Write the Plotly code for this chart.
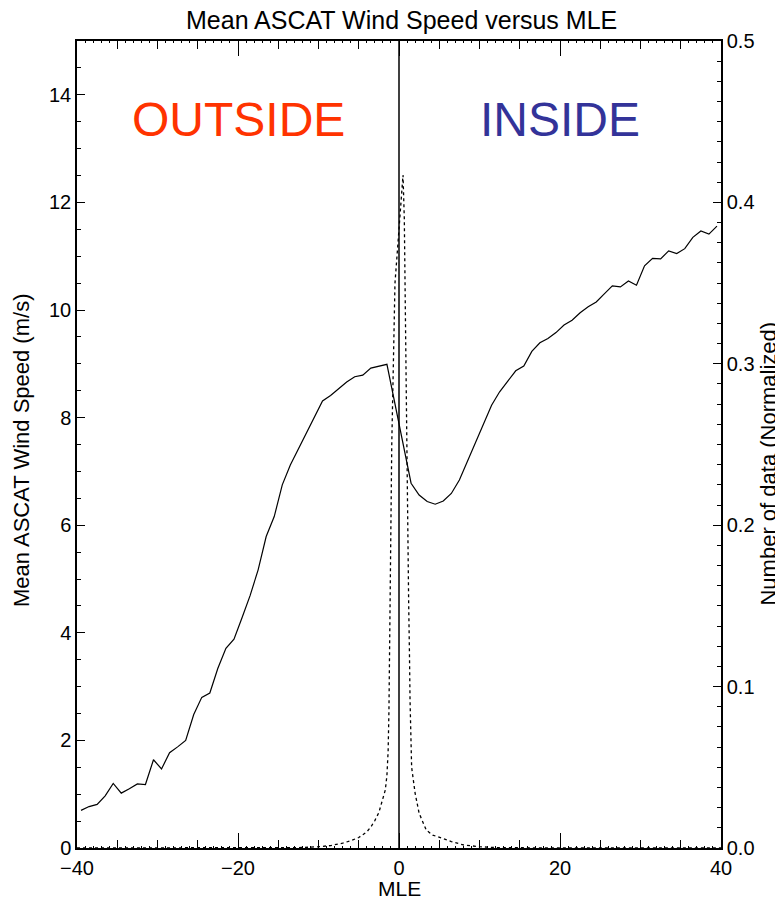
import plotly.graph_objects as go

# Mean ASCAT wind speed per MLE bin (bins at -0.5 and 0.5 absent)
mle_speed = [-39.5, -38.5, -37.5, -36.5, -35.5, -34.5, -33.5, -32.5, -31.5, -30.5,
             -29.5, -28.5, -27.5, -26.5, -25.5, -24.5, -23.5, -22.5, -21.5, -20.5,
             -19.5, -18.5, -17.5, -16.5, -15.5, -14.5, -13.5, -12.5, -11.5, -10.5,
             -9.5, -8.5, -7.5, -6.5, -5.5, -4.5, -3.5, -2.5, -1.5,
             1.5, 2.5, 3.5, 4.5, 5.5, 6.5, 7.5, 8.5, 9.5, 10.5,
             11.5, 12.5, 13.5, 14.5, 15.5, 16.5, 17.5, 18.5, 19.5, 20.5,
             21.5, 22.5, 23.5, 24.5, 25.5, 26.5, 27.5, 28.5, 29.5, 30.5,
             31.5, 32.5, 33.5, 34.5, 35.5, 36.5, 37.5, 38.5, 39.5]
wind_speed = [0.70, 0.77, 0.81, 0.97, 1.20, 1.02, 1.10, 1.19, 1.18, 1.64,
              1.47, 1.77, 1.88, 2.00, 2.48, 2.80, 2.88, 3.34, 3.71, 3.88,
              4.28, 4.69, 5.17, 5.79, 6.16, 6.75, 7.12, 7.42, 7.73, 8.04,
              8.31, 8.41, 8.54, 8.66, 8.76, 8.79, 8.92, 8.96, 8.99,
              6.78, 6.56, 6.44, 6.39, 6.45, 6.59, 6.84, 7.18, 7.52, 7.86,
              8.23, 8.48, 8.68, 8.87, 8.96, 9.23, 9.39, 9.47, 9.58, 9.72,
              9.81, 9.95, 10.06, 10.15, 10.30, 10.45, 10.43, 10.54, 10.46, 10.82,
              10.96, 10.95, 11.10, 11.05, 11.14, 11.35, 11.47, 11.41, 11.56]

# Normalized number of data versus MLE
mle_count = [-40, -20, -12, -10, -8.5, -7, -6, -5, -4, -3.5, -3, -2.5, -2, -1.7,
             -1.5, -1.35, -1.25, -1.15, -1.05, -0.9, -0.7, -0.5, -0.2, 0.1, 0.5,
             0.6, 0.66, 0.75, 0.83, 0.9, 0.95, 1.05, 1.2, 1.3, 1.37, 1.57, 1.8,
             2.0, 2.5, 3.0, 3.4, 4.2, 5.3, 6.5, 8, 10, 12, 20, 40]
count_norm = [0.0, 0.0, 0.0003, 0.0008, 0.0015, 0.003, 0.0045, 0.0065, 0.010, 0.013,
              0.017, 0.022, 0.030, 0.036, 0.045, 0.060, 0.085, 0.13, 0.19, 0.25,
              0.30, 0.35, 0.37, 0.39, 0.417,
              0.40, 0.39, 0.35, 0.31, 0.27, 0.24, 0.20, 0.152, 0.12, 0.092, 0.05, 0.04,
              0.034, 0.0215, 0.015, 0.011, 0.008, 0.006, 0.004, 0.0019, 0.0008, 0.0003, 0.0, 0.0]

x_ticks = [-40, -20, 0, 20, 40]
y_ticks = [0, 2, 4, 6, 8, 10, 12, 14]
y2_ticks = [0.0, 0.1, 0.2, 0.3, 0.4, 0.5]

FONT = "Liberation Sans, Arial, sans-serif"

fig = go.Figure()
fig.add_trace(go.Scatter(x=mle_speed, y=wind_speed, mode="lines",
                         line=dict(color="black", width=1.2), xaxis="x", yaxis="y",
                         showlegend=False))
fig.add_trace(go.Scatter(x=mle_count, y=count_norm, mode="lines",
                         line=dict(color="black", width=1.3, dash="dot"), xaxis="x", yaxis="y2",
                         showlegend=False))
# invisible trace so the fine tick axis is drawn
fig.add_trace(go.Scatter(x=[-40], y=[0], xaxis="x2", yaxis="y", mode="markers",
                         marker=dict(opacity=0), showlegend=False, hoverinfo="skip"))

fig.add_shape(type="line", x0=0, x1=0, y0=0, y1=15, xref="x", yref="y",
              line=dict(color="black", width=1.5))

fig.add_annotation(x=-20, y=13.55, xref="x", yref="y", text="OUTSIDE", showarrow=False,
                   font=dict(family=FONT, size=48, color="#FF3300"))
fig.add_annotation(x=20, y=13.55, xref="x", yref="y", text="INSIDE", showarrow=False,
                   font=dict(family=FONT, size=48, color="#333399"))

# titles as annotations (paper coords; plot area 644 x 807 px)
fig.add_annotation(x=0.504, y=1.0260, xref="paper", yref="paper",
                   text="Mean ASCAT Wind Speed versus MLE", showarrow=False,
                   xanchor="center", yanchor="middle",
                   font=dict(family=FONT, size=25, color="black"))
fig.add_annotation(x=0.5, y=-0.0496, xref="paper", yref="paper", text="MLE",
                   showarrow=False, xanchor="center", yanchor="middle",
                   font=dict(family=FONT, size=21, color="black"))
fig.add_annotation(x=-0.0854, y=0.492, xref="paper", yref="paper",
                   text="Mean ASCAT Wind Speed (m/s)", textangle=-90, showarrow=False,
                   xanchor="center", yanchor="middle",
                   font=dict(family=FONT, size=22, color="black"))
fig.add_annotation(x=1.074, y=0.476, xref="paper", yref="paper",
                   text="Number of data (Normalized)", textangle=-90, showarrow=False,
                   xanchor="center", yanchor="middle",
                   font=dict(family=FONT, size=22, color="black"))

axis_common = dict(showgrid=False, zeroline=False, showline=True, linecolor="black",
                   linewidth=1.5, ticks="inside", tickcolor="black", automargin=False,
                   tickfont=dict(family=FONT, size=20, color="black"))

# the page body adds an 8px offset at left/top, so the figure is 8px smaller
fig.update_layout(
    width=775, height=893,
    margin=dict(l=69, r=62, t=33, b=53),
    paper_bgcolor="white", plot_bgcolor="white",
    xaxis=dict(range=[-40, 40], tickvals=x_ticks, ticklen=15, tickwidth=1.3,
               mirror="ticks", ticklabelstandoff=1,
               minor=dict(dtick=5, ticklen=8, tickcolor="black", ticks="inside"),
               **axis_common),
    xaxis2=dict(range=[-40, 40], overlaying="x", dtick=1, tick0=0, ticks="inside",
                ticklen=2, tickcolor="black", showticklabels=False, showgrid=False,
                zeroline=False, showline=False, mirror="ticks"),
    yaxis=dict(range=[0, 15], tickvals=y_ticks, ticklen=8, tickwidth=1.2,
               minor=dict(dtick=0.5, ticklen=4, tickcolor="black", ticks="inside"),
               **axis_common),
    yaxis2=dict(range=[0, 0.5], overlaying="y", side="right", tickvals=y2_ticks,
                tickformat=".1f", ticklen=8, tickwidth=1.2,
                minor=dict(dtick=0.0125, ticklen=4, tickcolor="black", ticks="inside"),
                **axis_common),
)

fig.write_html("out.html")
